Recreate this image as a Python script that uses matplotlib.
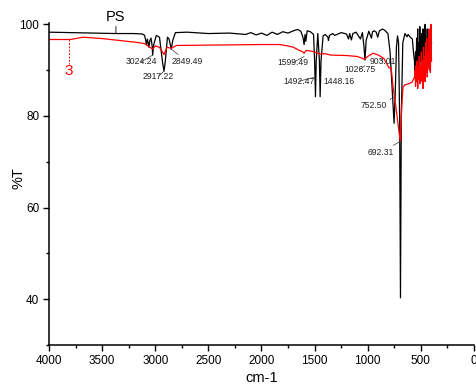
import matplotlib
matplotlib.use('Agg')
import matplotlib.pyplot as plt
from matplotlib.ticker import MultipleLocator

plt.rcParams['font.family'] = ['Liberation Sans', 'DejaVu Sans']

# PS spectrum (wavenumber cm-1, %T)
ps_wn = [4000, 3800, 3600, 3370, 3200, 3120, 3100, 3090, 3082, 3075, 3066, 3060,
         3050, 3040, 3030, 3024, 3015, 2990, 2960, 2930, 2917, 2905, 2885, 2870,
         2849, 2835, 2810, 2700, 2500, 2300, 2150, 2100, 2050, 2000, 1950, 1900,
         1850, 1800, 1750, 1700, 1660, 1630, 1610, 1599, 1590, 1583, 1570, 1540,
         1510, 1500, 1492, 1485, 1470, 1455, 1448, 1440, 1420, 1400, 1375, 1370,
         1360, 1330, 1310, 1280, 1250, 1200, 1181, 1170, 1154, 1140, 1110, 1069,
         1050, 1035, 1026, 1015, 990, 965, 955, 940, 920, 906, 890, 860, 840,
         810, 790, 770, 752, 740, 730, 720, 710, 700, 692, 684, 670, 650, 630,
         620, 600, 580, 570,
         560, 555, 550, 545, 540, 535, 530, 525, 520, 515, 510, 505, 500, 495,
         490, 485, 480, 475, 470, 465, 460, 455, 450, 445, 440, 435, 430, 425,
         420, 415, 410, 405, 400]
ps_t = [98.3, 98.2, 98.1, 98.0, 98.0, 97.9, 97.6, 96.5, 95.5, 96.8, 96.0, 95.0,
        96.5, 97.0, 95.5, 93.3, 95.5, 97.6, 97.2, 91.5, 89.8, 92.0, 97.2, 96.8,
        94.6, 96.5, 98.2, 98.3, 98.0, 98.1, 97.8, 98.2, 97.7, 98.1, 97.6, 98.3,
        97.8, 98.4, 98.1, 98.6, 98.9, 98.5, 97.2, 95.6, 97.8, 96.3, 98.6, 98.4,
        97.8, 92.0, 84.2, 92.0, 98.0, 92.0, 84.2, 92.0, 97.5, 97.8, 97.2, 96.5,
        97.6, 98.0, 97.6, 97.9, 98.2, 97.9, 96.8, 98.0, 96.6, 98.0, 98.3, 96.8,
        98.2, 95.0, 92.2, 96.5, 98.5, 97.0, 98.4, 98.6, 98.3, 97.2, 98.6, 99.0,
        98.7, 98.0, 94.0, 86.0, 78.4, 86.0, 95.0, 97.5, 96.0, 80.0, 40.3, 80.0,
        96.0, 98.0, 97.3, 97.8, 97.2, 96.8, 94.0,
        92.0, 88.5, 94.0, 90.0, 97.0, 89.0, 99.0, 91.0, 96.0, 89.0, 99.5, 92.0,
        97.0, 88.5, 98.0, 90.0, 99.0, 93.0, 96.0, 89.0, 100.0, 91.0, 97.0, 90.0,
        99.0, 92.0, 98.0, 91.0, 97.0, 93.0, 99.0, 94.0, 96.0]

# sample 3 spectrum
s3_wn = [4000, 3800, 3680, 3500, 3300, 3150, 3100, 3050, 3024, 3000, 2960, 2917,
         2890, 2849, 2800, 2400, 2000, 1830, 1750, 1700, 1650, 1610, 1600, 1580,
         1540, 1500, 1450, 1400, 1350, 1200, 1100, 1030, 1000, 950, 900, 850,
         800, 780, 760, 735, 700, 692, 680, 668, 650, 620, 600, 584, 570,
         560, 555, 550, 545, 540, 535, 530, 525, 520, 515, 510, 505, 500, 495,
         490, 485, 480, 475, 470, 465, 460, 455, 450, 445, 440, 435, 430, 425,
         420, 415, 410, 405, 400]
s3_t = [96.7, 96.7, 97.2, 96.9, 96.4, 96.0, 95.8, 95.0, 94.6, 95.3, 95.0, 93.4,
        95.0, 94.8, 95.4, 95.5, 95.6, 95.6, 95.3, 95.0, 94.4, 94.0, 93.7, 94.3,
        94.2, 94.0, 93.5, 93.6, 93.3, 93.2, 93.0, 92.4, 93.0, 93.7, 93.3, 92.6,
        90.5, 90.6, 86.0, 82.0, 75.5, 74.5, 82.0, 86.3, 86.8, 87.0, 87.2, 87.4,
        88.0,
        88.5, 90.0, 86.5, 91.0, 87.5, 92.0, 86.0, 90.5, 88.0, 93.0, 87.0, 91.0,
        87.5, 94.0, 88.5, 92.0, 86.0, 95.0, 89.0, 93.0, 87.5, 96.0, 89.5, 97.0,
        88.5, 94.0, 90.5, 99.0, 90.0, 93.0, 89.5, 100.0, 92.0]

# peak labels: (text, peak wavenumber, peak %T, text wavenumber, text %T)
peak_labels = [
    ('3024.24', 3024, 93.3, 3134, 91.8),
    ('2917.22', 2917, 89.8, 2969, 88.7),
    ('2849.49', 2849, 94.6, 2696, 91.8),
    ('1599.49', 1599, 93.0, 1708, 91.6),
    ('1492.47', 1492, 88.5, 1647, 87.6),
    ('1448.16', 1448, 88.5, 1271, 87.6),
    ('1026.75', 1026, 91.0, 1073, 90.2),
    ('903.01', 880, 92.5, 857, 91.8),
    ('752.50', 752, 84.0, 941, 82.2),
    ('692.31', 692, 74.5, 875, 72.0),
]

fig = plt.figure(figsize=(4.77, 3.86), dpi=100)
ax = fig.add_axes([0.1027, 0.1062, 0.891, 0.833])

ax.plot(ps_wn, ps_t, color='black', lw=0.9)
ax.plot(s3_wn, s3_t, color='red', lw=0.9)

ax.set_xlim(4000, 0)
ax.set_ylim(30, 100.2)

for txt, px, py, tx, ty in peak_labels:
    ax.annotate(txt, xy=(px, py), xytext=(tx, ty), fontsize=6.2,
                color='#222222', ha='center', va='center',
                arrowprops=dict(arrowstyle='-', color='#333333', lw=0.5,
                                shrinkA=0, shrinkB=0))

# curve names
ax.annotate('PS', xy=(3370, 98.0), xytext=(3370, 101.7), fontsize=10.5,
            ha='center', va='center', annotation_clip=False,
            arrowprops=dict(arrowstyle='-', color='black', lw=0.6,
                            shrinkA=6, shrinkB=0))
ax.plot([3810, 3810], [96.7, 91.3], color='red', lw=0.7, ls=(0, (2, 1.5)))
ax.text(3812, 89.8, '3', color='red', fontsize=11, ha='center', va='center')

for side in ['top', 'right']:
    ax.spines[side].set_visible(False)
for side in ['left', 'bottom']:
    ax.spines[side].set_linewidth(1.1)

ax.xaxis.set_major_locator(MultipleLocator(500))
ax.xaxis.set_minor_locator(MultipleLocator(250))
ax.yaxis.set_major_locator(MultipleLocator(20))
ax.yaxis.set_minor_locator(MultipleLocator(10))
ax.tick_params(which='major', length=4.5, width=1, labelsize=8.5, pad=2.5)
ax.tick_params(which='minor', length=2.5, width=1)

ax.set_xlabel('cm-1', fontsize=10.5, labelpad=3)
ax.set_ylabel('%T', fontsize=10.5)
ax.yaxis.set_label_coords(-0.056, 0.52)

fig.savefig('out.png', dpi=100)
